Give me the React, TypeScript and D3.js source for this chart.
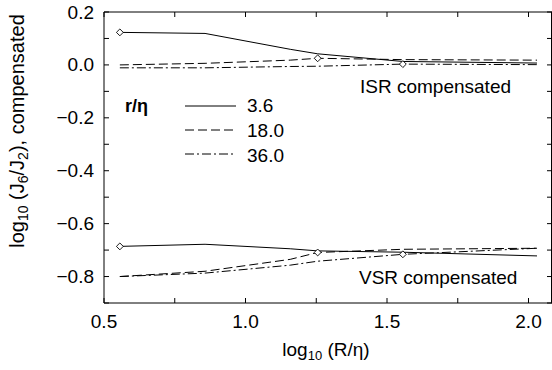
import React from "react";
import * as d3 from "d3";

const xVals = [0.556, 0.857, 1.158, 1.255, 1.556, 2.03];
const isr36 = [0.123, 0.119, 0.059, 0.042, 0.013, 0.007];
const isr18 = [0.0, 0.006, 0.018, 0.025, 0.02, 0.018];
const isr360 = [-0.011, -0.011, -0.006, -0.005, 0.003, 0.001];
const vsr36 = [-0.686, -0.678, -0.695, -0.703, -0.708, -0.722];
const vsr18 = [-0.8, -0.78, -0.735, -0.709, -0.697, -0.693];
const vsr360 = [-0.8, -0.787, -0.757, -0.742, -0.716, -0.693];
const legendLabels = ["3.6", "18.0", "36.0"];
const dashes = ["none", "9,4", "9,3,2,3"];
const diamondsX = [0.556, 1.255, 1.556];
const xTickMajor = [0.5, 1.0, 1.5, 2.0];
const xTickMinor = [0.75, 1.25, 1.75];
const yTickMajor = [0.2, 0.0, -0.2, -0.4, -0.6, -0.8];
const yTickMinor = [0.1, -0.1, -0.3, -0.5, -0.7, -0.9];

const W = 552, H = 370;
const L = 104, R = 552, T = 12, B = 303;
const FONT = "'Liberation Sans', Arial, Helvetica, sans-serif";

export default function App() {
  const x = d3.scaleLinear().domain([0.5, 2.083]).range([L, R]);
  const y = d3.scaleLinear().domain([-0.9, 0.2]).range([B, T]);
  const line = d3.line<number>().x((_, i) => x(xVals[i])).y((d) => y(d));
  const groups = [
    [isr36, isr18, isr360],
    [vsr36, vsr18, vsr360],
  ];
  const fmt = (v: number) => (v < 0 ? "\u2212" : "") + Math.abs(v).toFixed(1);
  const diamond = d3.symbol().type(d3.symbolDiamond2).size(30);
  const tl = 5;
  const sub = 13;
  return (
    <div style={{ position: "absolute", left: 0, top: 0 }}>
      <svg width={W} height={H} style={{ display: "block", background: "#fff" }}>
        <g fill="none" stroke="#000" strokeWidth={1}>
          <line x1={L} y1={T} x2={R} y2={T} />
          <line x1={L} y1={B} x2={R} y2={B} />
          <line x1={L} y1={T} x2={L} y2={B} />
          <line x1={R - 0.5} y1={T} x2={R - 0.5} y2={B} />
          {[...xTickMajor, ...xTickMinor].map((t) => (
            <g key={"xt" + t}>
              <line x1={x(t)} x2={x(t)} y1={B} y2={B - tl} />
              <line x1={x(t)} x2={x(t)} y1={T} y2={T + tl} />
            </g>
          ))}
          {[...yTickMajor, ...yTickMinor].map((t) => (
            <g key={"yt" + t}>
              <line x1={L} x2={L + tl} y1={y(t)} y2={y(t)} />
              <line x1={R} x2={R - tl} y1={y(t)} y2={y(t)} />
            </g>
          ))}
        </g>
        <g fill="none" stroke="#000" strokeWidth={1}>
          {groups.map((g, gi) =>
            g.map((s, si) => (
              <path key={gi + "-" + si} d={line(s) || ""} strokeDasharray={dashes[si]} />
            ))
          )}
        </g>
        <g fill="#fff" stroke="#000" strokeWidth={0.9}>
          {groups.map((g, gi) =>
            diamondsX.map((dx, si) => {
              const idx = xVals.indexOf(dx);
              return (
                <path
                  key={"d" + gi + si}
                  d={diamond() || ""}
                  transform={`translate(${x(dx)},${y(g[si][idx])})`}
                />
              );
            })
          )}
        </g>
        <g fontFamily={FONT} fontSize={19} fill="#000">
          {yTickMajor.map((t) => (
            <text key={"yl" + t} x={94} y={y(t) + 6.5} textAnchor="end">
              {fmt(t)}
            </text>
          ))}
          {xTickMajor.map((t) => (
            <text key={"xl" + t} x={x(t)} y={328} textAnchor="middle">
              {t.toFixed(1)}
            </text>
          ))}
          <text x={326} y={356} textAnchor="middle">
            log<tspan fontSize={sub} dy={4}>10</tspan>
            <tspan dy={-4}> (R/η)</tspan>
          </text>
          <text transform={`translate(24,131) rotate(-90)`} textAnchor="middle" fontSize={20}>
            log<tspan fontSize={14} dy={4}>10</tspan>
            <tspan dy={-4}> (J</tspan>
            <tspan fontSize={14} dy={4}>6</tspan>
            <tspan dy={-4}>/J</tspan>
            <tspan fontSize={14} dy={4}>2</tspan>
            <tspan dy={-4}>), compensated</tspan>
          </text>
          <text x={360} y={93}>ISR compensated</text>
          <text x={359} y={284}>VSR compensated</text>
          <text x={125} y={112} fontWeight="bold" fontSize={18}>r/η</text>
          {legendLabels.map((lab, i) => (
            <g key={"lg" + i}>
              <line
                x1={185}
                x2={236}
                y1={106 + i * 24}
                y2={106 + i * 24}
                stroke="#000"
                strokeWidth={1}
                strokeDasharray={dashes[i]}
              />
              <text x={247} y={112 + i * 25}>
                {lab}
              </text>
            </g>
          ))}
        </g>
      </svg>
    </div>
  );
}
